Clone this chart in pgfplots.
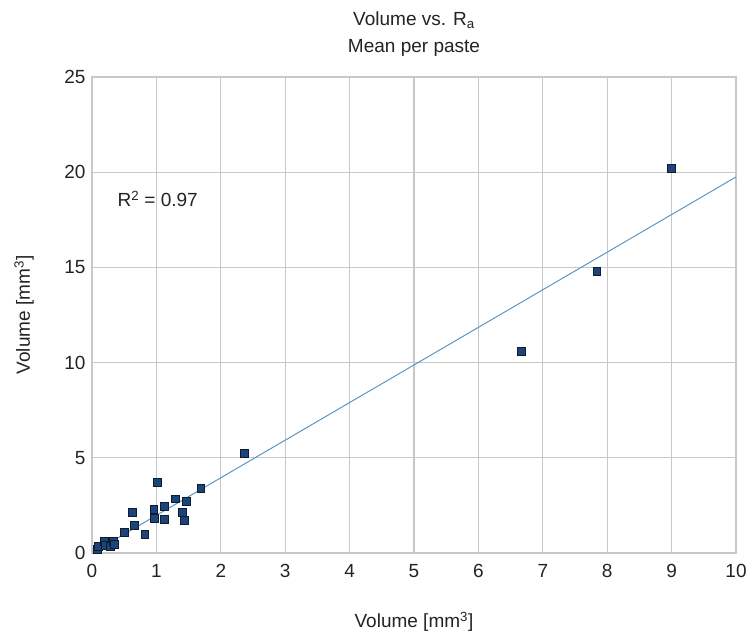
\documentclass[border=0pt]{standalone}
\usepackage{pgfplots}
\pgfplotsset{compat=1.18}
\usepackage{fontspec}
\setmainfont{Liberation Sans}
\definecolor{gridc}{RGB}{200,200,200}
\definecolor{markfill}{RGB}{28,68,118}
\definecolor{markedge}{RGB}{12,28,50}
\definecolor{trend}{RGB}{90,150,195}
\definecolor{txt}{RGB}{35,35,35}
\begin{document}
\begin{tikzpicture}
\begin{axis}[
  scale only axis,
  width=644pt, height=476pt,
  xmin=0, xmax=10, ymin=0, ymax=25,
  xtick={0,1,...,10}, ytick={0,5,...,25},
  grid=major,
  major grid style={gridc, line width=1.1pt},
  axis line style={gridc, line width=1.1pt},
  tick style={draw=none},
  /pgf/number format/assume math mode=true,
  ticklabel style={font=\fontsize{19}{23}\selectfont, text=txt},
  xticklabel style={yshift=-8pt},
  yticklabel style={xshift=-3pt},
  clip=false,
]
\addplot[trend, line width=1pt, forget plot] coordinates {(0.05,0.1) (10,19.75)};
\addplot[only marks, mark=square*, mark size=3.9pt,
  mark options={fill=markfill, draw=markedge, line width=0.8pt}] coordinates {
(0.08,0.17) (0.10,0.35) (0.19,0.61) (0.20,0.40) (0.28,0.35) (0.33,0.61)
(0.35,0.45) (0.50,1.08) (0.63,2.13) (0.66,1.43) (0.82,0.98) (0.96,2.31)
(0.97,1.82) (1.015,3.71) (1.13,2.45) (1.13,1.75) (1.30,2.84) (1.40,2.13)
(1.44,1.71) (1.46,2.73) (1.69,3.41) (2.37,5.25) (6.67,10.57) (7.84,14.8)
(9.0,20.2)
};
\node[font=\fontsize{19}{23}\selectfont, text=txt] at (axis cs:1.02,18.6) {R\textsuperscript{2} = 0.97};
\node[font=\fontsize{19}{23}\selectfont, text=txt] at ([yshift=57pt]rel axis cs:0.5,1) {Volume vs. R\textsubscript{a}};
\node[font=\fontsize{19}{23}\selectfont, text=txt] at ([yshift=29pt]rel axis cs:0.5,1) {Mean per paste};
\node[font=\fontsize{19}{23}\selectfont, text=txt] at ([yshift=-69pt]rel axis cs:0.5,0) {Volume [mm\textsuperscript{3}]};
\node[font=\fontsize{19}{23}\selectfont, text=txt, rotate=90] at ([xshift=-68pt]rel axis cs:0,0.5) {Volume [mm\textsuperscript{3}]};
\coordinate (SW) at (rel axis cs:0,0);
\coordinate (NE) at (rel axis cs:1,1);
\end{axis}
\pgfresetboundingbox
\path ([shift={(-92pt,-84pt)}]SW) rectangle ([shift={(13pt,77pt)}]NE);
\end{tikzpicture}
\end{document}
